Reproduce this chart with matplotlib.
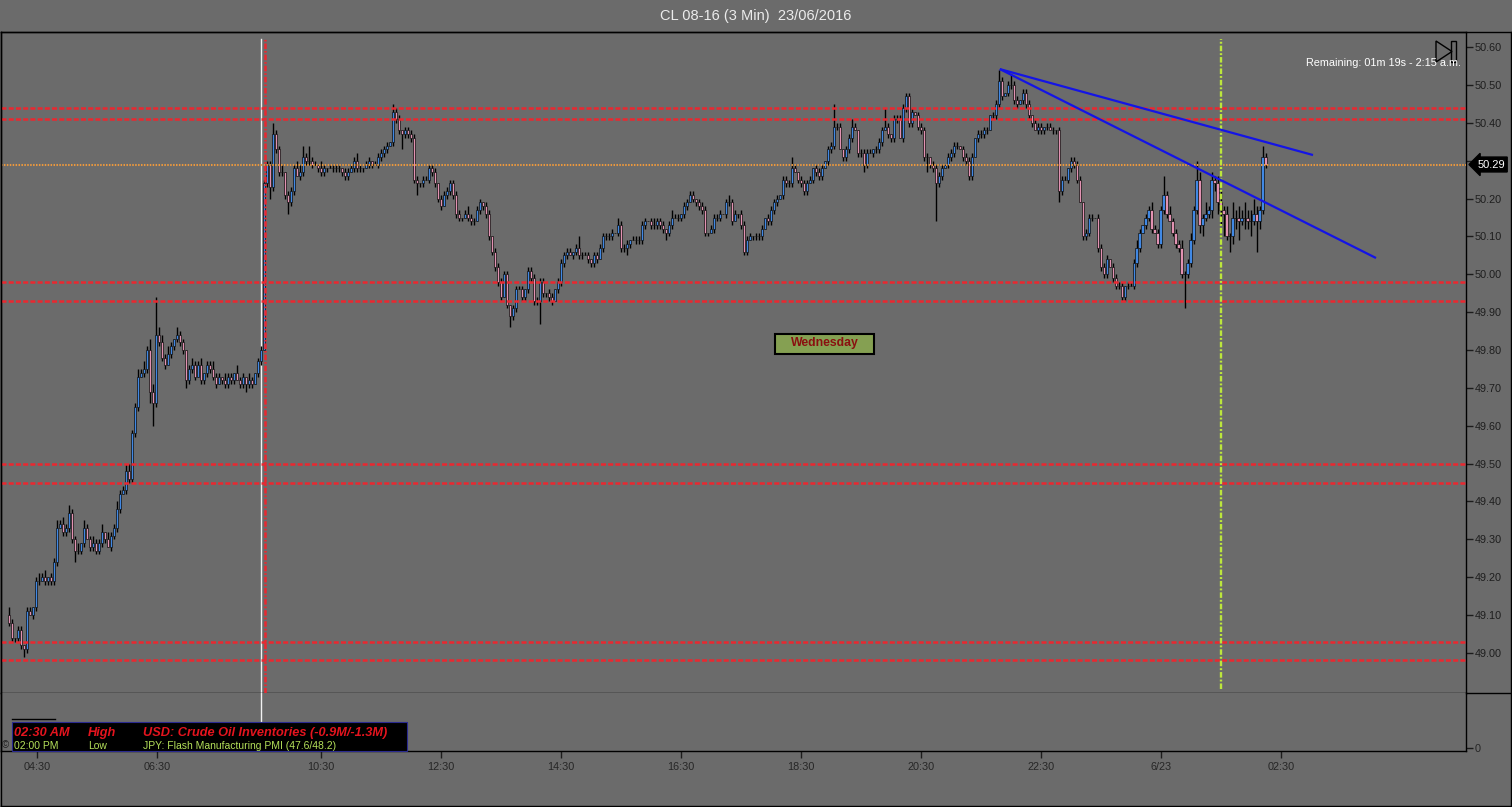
import numpy as np
import matplotlib
matplotlib.use("Agg")
import matplotlib.pyplot as plt
from matplotlib.patches import Rectangle, Polygon
from matplotlib.lines import Line2D

plt.rcParams['font.family'] = ['Liberation Sans', 'DejaVu Sans']
plt.rcParams['lines.scale_dashes'] = False

# ---- data ----
title = "CL 08-16 (3 Min)  23/06/2016"
first_open = 49.10
closes = [
    49.08, 49.04, 49.04, 49.06, 49.02, 49.01, 49.11, 49.10, 49.12, 49.19,
    49.19, 49.20, 49.19, 49.20, 49.19, 49.24, 49.33, 49.34, 49.32, 49.33,
    49.37, 49.30, 49.27, 49.27, 49.29, 49.33, 49.30, 49.28, 49.29, 49.27,
    49.29, 49.32, 49.30, 49.28, 49.31, 49.33, 49.38, 49.42, 49.43, 49.48,
    49.46, 49.58, 49.65, 49.73, 49.74, 49.75, 49.80, 49.69, 49.66, 49.84,
    49.82, 49.78, 49.76, 49.79, 49.81, 49.83, 49.84, 49.82, 49.80, 49.72,
    49.75, 49.76, 49.73, 49.76, 49.72, 49.74, 49.76, 49.75, 49.73, 49.71,
    49.73, 49.72, 49.71, 49.73, 49.72, 49.74, 49.72, 49.71, 49.73, 49.71,
    49.72, 49.71, 49.74, 49.77, 49.80, 50.24, 50.29, 50.23, 50.37, 50.33,
    50.27, 50.27, 50.21, 50.19, 50.22, 50.28, 50.26, 50.27, 50.31, 50.30,
    50.30, 50.29, 50.29, 50.28, 50.27, 50.28, 50.28, 50.28, 50.28, 50.28,
    50.28, 50.27, 50.26, 50.27, 50.28, 50.30, 50.28, 50.28, 50.28, 50.29,
    50.30, 50.29, 50.29, 50.31, 50.32, 50.33, 50.34, 50.35, 50.43, 50.41,
    50.38, 50.37, 50.38, 50.37, 50.36, 50.25, 50.24, 50.24, 50.25, 50.25,
    50.28, 50.27, 50.24, 50.20, 50.18, 50.21, 50.22, 50.24, 50.21, 50.16,
    50.15, 50.15, 50.16, 50.15, 50.14, 50.14, 50.17, 50.19, 50.18, 50.16,
    50.10, 50.06, 50.02, 49.98, 49.94, 50.00, 49.92, 49.89, 49.91, 49.96,
    49.96, 49.94, 49.96, 50.01, 49.99, 49.93, 49.93, 49.98, 49.95, 49.95,
    49.94, 49.93, 49.96, 49.98, 50.03, 50.05, 50.06, 50.05, 50.06, 50.07,
    50.05, 50.05, 50.05, 50.04, 50.03, 50.05, 50.04, 50.07, 50.10, 50.10,
    50.10, 50.11, 50.11, 50.13, 50.07, 50.07, 50.08, 50.09, 50.09, 50.09,
    50.09, 50.13, 50.14, 50.14, 50.13, 50.13, 50.14, 50.13, 50.12, 50.11,
    50.13, 50.15, 50.15, 50.15, 50.16, 50.18, 50.19, 50.21, 50.20, 50.19,
    50.18, 50.17, 50.11, 50.11, 50.12, 50.15, 50.15, 50.16, 50.16, 50.19,
    50.19, 50.14, 50.16, 50.16, 50.13, 50.06, 50.09, 50.10, 50.10, 50.10,
    50.10, 50.12, 50.15, 50.14, 50.17, 50.19, 50.20, 50.21, 50.25, 50.24,
    50.24, 50.28, 50.27, 50.25, 50.24, 50.22, 50.24, 50.25, 50.28, 50.27,
    50.26, 50.28, 50.30, 50.33, 50.34, 50.39, 50.39, 50.33, 50.31, 50.33,
    50.36, 50.39, 50.38, 50.32, 50.32, 50.29, 50.32, 50.32, 50.33, 50.33,
    50.35, 50.38, 50.39, 50.37, 50.36, 50.41, 50.41, 50.36, 50.44, 50.47,
    50.40, 50.43, 50.42, 50.39, 50.38, 50.31, 50.31, 50.29, 50.28, 50.24,
    50.26, 50.28, 50.29, 50.31, 50.32, 50.34, 50.34, 50.33, 50.31, 50.30,
    50.26, 50.31, 50.36, 50.37, 50.37, 50.38, 50.38, 50.42, 50.42, 50.45,
    50.51, 50.47, 50.48, 50.50, 50.50, 50.46, 50.45, 50.46, 50.48, 50.45,
    50.42, 50.40, 50.38, 50.39, 50.38, 50.39, 50.39, 50.38, 50.38, 50.38,
    50.22, 50.25, 50.25, 50.28, 50.30, 50.29, 50.25, 50.19, 50.10, 50.11,
    50.15, 50.15, 50.15, 50.07, 50.02, 50.00, 50.04, 50.02, 49.99, 49.97,
    49.97, 49.94, 49.97, 49.97, 49.97, 50.03, 50.07, 50.11, 50.13, 50.15,
    50.17, 50.12, 50.11, 50.08, 50.17, 50.21, 50.16, 50.14, 50.11, 50.08,
    50.07, 50.00, 50.00, 50.03, 50.09, 50.17, 50.25, 50.13, 50.15, 50.16,
    50.17, 50.25, 50.24, 50.19, 50.17, 50.16, 50.10, 50.10, 50.15, 50.15,
    50.14, 50.15, 50.15, 50.14, 50.14, 50.16, 50.14, 50.17, 50.31, 50.29,
]
# wick lengths beyond the body, in cents
upper_wick = [
    2, 1, 0, 1, 1, 0, 1, 1, 0, 1, 2, 1, 2, 0, 1, 1, 2, 1, 2, 1,
    2, 1, 1, 2, 0, 2, 1, 1, 2, 1, 1, 2, 0, 2, 1, 1, 2, 1, 1, 2,
    2, 1, 1, 2, 1, 2, 1, 3, 2, 10, 2, 2, 1, 2, 1, 0, 2, 1, 1, 0,
    1, 2, 1, 1, 2, 0, 1, 1, 2, 1, 1, 0, 2, 1, 1, 0, 2, 1, 1, 0,
    2, 1, 0, 1, 1, 1, 1, 1, 3, 1, 1, 2, 0, 1, 1, 1, 2, 2, 3, 1,
    4, 1, 1, 0, 2, 1, 0, 1, 1, 1, 1, 0, 1, 1, 1, 1, 2, 1, 0, 1,
    1, 0, 1, 1, 1, 1, 1, 0, 2, 1, 1, 0, 1, 1, 1, 1, 1, 0, 1, 1,
    1, 1, 1, 0, 1, 1, 1, 1, 1, 1, 1, 0, 1, 2, 1, 1, 1, 1, 0, 1,
    1, 0, 1, 1, 1, 1, 1, 0, 1, 1, 1, 1, 0, 1, 1, 1, 1, 1, 1, 0,
    1, 1, 0, 1, 1, 1, 1, 1, 0, 1, 3, 1, 1, 1, 0, 1, 1, 1, 1, 1,
    1, 1, 0, 2, 1, 1, 1, 0, 1, 1, 1, 1, 1, 0, 1, 2, 1, 1, 1, 0,
    1, 2, 1, 1, 0, 1, 1, 1, 1, 0, 1, 1, 1, 0, 1, 1, 1, 1, 0, 1,
    2, 1, 1, 0, 1, 1, 1, 1, 0, 1, 1, 1, 0, 1, 1, 1, 1, 0, 1, 1,
    1, 3, 1, 0, 1, 1, 1, 1, 0, 1, 1, 1, 0, 1, 1, 6, 1, 1, 0, 1,
    1, 2, 1, 0, 1, 1, 1, 1, 0, 1, 1, 1, 5, 1, 0, 1, 1, 1, 1, 1,
    1, 1, 0, 1, 1, 1, 1, 0, 1, 1, 1, 1, 0, 1, 1, 1, 1, 0, 1, 1,
    1, 1, 0, 1, 1, 1, 1, 0, 1, 1, 3, 1, 0, 1, 3, 1, 1, 0, 1, 1,
    1, 0, 1, 1, 1, 0, 1, 1, 1, 0, 1, 1, 1, 0, 1, 1, 1, 1, 0, 1,
    1, 1, 0, 1, 1, 1, 1, 0, 1, 1, 1, 1, 0, 1, 1, 1, 2, 1, 0, 1,
    1, 2, 1, 1, 1, 5, 1, 2, 1, 1, 1, 2, 1, 1, 2, 1, 5, 2, 1, 3,
    1, 2, 1, 2, 3, 1, 2, 1, 4, 2, 3, 2, 4, 2, 3, 4, 2, 1, 3, 1,
]
lower_wick = [
    1, 1, 1, 1, 1, 2, 1, 0, 1, 1, 1, 0, 1, 1, 1, 1, 1, 0, 1, 1,
    1, 1, 3, 1, 1, 1, 0, 1, 1, 1, 1, 1, 1, 0, 1, 1, 1, 1, 0, 1,
    1, 1, 1, 1, 0, 1, 1, 3, 6, 1, 1, 1, 1, 0, 1, 1, 1, 1, 1, 2,
    1, 1, 1, 0, 1, 1, 1, 1, 1, 1, 0, 1, 1, 1, 1, 1, 0, 1, 1, 2,
    1, 1, 0, 1, 1, 0, 1, 3, 1, 1, 1, 1, 1, 3, 1, 1, 0, 1, 1, 1,
    1, 1, 0, 1, 1, 1, 1, 0, 1, 1, 1, 1, 1, 1, 0, 1, 1, 1, 1, 0,
    1, 1, 0, 1, 1, 1, 1, 0, 1, 1, 1, 4, 1, 1, 1, 1, 3, 1, 1, 0,
    1, 1, 1, 1, 1, 0, 1, 1, 1, 1, 1, 1, 0, 1, 1, 1, 0, 1, 1, 1,
    1, 1, 1, 1, 1, 0, 1, 3, 1, 1, 0, 1, 1, 1, 1, 1, 1, 6, 1, 1,
    1, 1, 0, 1, 1, 1, 1, 0, 1, 1, 1, 1, 0, 1, 1, 1, 1, 0, 1, 1,
    1, 1, 0, 1, 1, 1, 2, 1, 0, 1, 1, 1, 1, 0, 1, 1, 1, 1, 1, 2,
    1, 1, 0, 1, 1, 1, 1, 0, 1, 1, 1, 1, 1, 1, 0, 1, 1, 1, 0, 1,
    1, 1, 0, 1, 1, 1, 1, 0, 1, 1, 1, 1, 0, 1, 1, 1, 1, 0, 1, 1,
    1, 1, 0, 1, 1, 1, 1, 0, 1, 1, 1, 1, 0, 1, 1, 1, 1, 0, 1, 1,
    1, 1, 0, 1, 1, 2, 1, 0, 1, 1, 1, 1, 0, 1, 1, 1, 1, 0, 1, 1,
    1, 1, 0, 1, 1, 1, 4, 1, 1, 10, 1, 1, 0, 1, 1, 1, 1, 0, 1, 1,
    1, 1, 0, 1, 1, 1, 1, 0, 1, 1, 1, 1, 0, 1, 1, 1, 1, 0, 1, 1,
    1, 1, 0, 1, 1, 1, 1, 0, 1, 1, 3, 1, 0, 1, 1, 1, 1, 0, 1, 1,
    1, 1, 0, 1, 1, 1, 1, 0, 1, 1, 1, 1, 1, 1, 0, 1, 1, 1, 0, 1,
    1, 1, 0, 1, 1, 1, 1, 0, 1, 1, 1, 1, 9, 1, 1, 1, 1, 2, 3, 1,
    1, 2, 2, 3, 4, 6, 1, 4, 2, 3, 5, 1, 3, 2, 4, 1, 8, 2, 1, 1,
]

levels = [50.44, 50.41, 49.98, 49.93, 49.50, 49.45, 49.03, 48.98]
last_price = 50.29
trend_x = [[330.3, 434.7], [330.3, 455.7]]
trend_y = [[50.542, 50.315], [50.542, 50.043]]
session_bar = 85.2
cursor_bar = 84.0
marker_bar = 404.0
tick_bars = [9.3, 49.3, 104, 144, 184, 224, 264, 304, 344, 384, 424]
tick_labels = ['04:30', '06:30', '10:30', '12:30', '14:30', '16:30',
               '18:30', '20:30', '22:30', '6/23', '02:30']
price_ticks = [49.0, 49.1, 49.2, 49.3, 49.4, 49.5, 49.6, 49.7, 49.8,
               49.9, 50.0, 50.1, 50.2, 50.3, 50.4, 50.5, 50.6]
news_time = ['02:30 AM', '02:00 PM']
news_impact = ['High', 'Low']
news_text = ['USD: Crude Oil Inventories (-0.9M/-1.3M)',
             'JPY: Flash Manufacturing PMI (47.6/48.2)']

BG = '#6b6b6b'
UP = '#4088e4'
DOWN = '#e292b2'
W, H = 1512, 807


def fx(px):
    return px / W


def fy(py):
    return 1 - py / H


c = np.array(closes)
o = np.concatenate([[first_open], c[:-1]])
h = np.maximum(o, c) + np.array(upper_wick) / 100
l = np.minimum(o, c) - np.array(lower_wick) / 100
x = np.arange(len(c))

fig = plt.figure(figsize=(W / 100, H / 100), dpi=100, facecolor=BG)
ax = fig.add_axes([fx(1), fy(693), fx(1466) - fx(1), fy(32) - fy(693)], facecolor=BG)
ax2 = fig.add_axes([fx(1), fy(751), fx(1466) - fx(1), fy(693) - fy(751)],
                   facecolor=BG, sharex=ax)

# candles
ax.vlines(x, l, h, color='black', lw=1.0, zorder=3)
ax.bar(x, np.abs(c - o), bottom=np.minimum(o, c), width=0.95,
       color=np.where(c >= o, UP, DOWN), edgecolor='#111111', linewidth=0.5, zorder=3)

# levels and drawings
for lv in levels:
    ax.axhline(lv, color='#ea2830', lw=1.8, ls=(0, (3.6, 1.6)), zorder=4)
ax.axhline(last_price, color='#ea983e', lw=1.5, ls=(0, (1.1, 1.0)), zorder=4)
ax.axvline(cursor_bar, color='#f2f2f2', lw=1, ymax=0.99, zorder=2)
ax2.axvline(cursor_bar, color='#f2f2f2', lw=1, zorder=2)
ax.axvline(session_bar, color='#ea2830', lw=1.8, ls=(0, (4, 1.4, 1.2, 1.4)),
           ymax=0.99, zorder=4)
ax.axvline(marker_bar, color='#bce63c', lw=1.7, ls=(0, (4, 1.4, 1.4, 1.4)),
           ymin=0.006, ymax=0.99, zorder=4)
for tx, ty in zip(trend_x, trend_y):
    ax.plot(tx, ty, color='#1414e6', lw=1.6, zorder=5, solid_capstyle='butt')

ax.set_xlim(-2.67, 485.7)
ax.set_ylim(48.894, 50.640)

# right price axis; the tick under the last-price tag gets no label
ax.yaxis.tick_right()
ax.set_yticks(price_ticks)
ax.set_yticklabels(['' if abs(p - last_price) < 0.05 else f'{p:.2f}' for p in price_ticks])
ax.tick_params(axis='y', direction='out', length=5, width=1, color='#1c1c1c',
               labelcolor='#1e1e1e', labelsize=7.8, pad=1)
ax.tick_params(axis='x', bottom=False, labelbottom=False)
for s in ax.spines.values():
    s.set_color('black')
    s.set_linewidth(1)

ax.annotate(f'{last_price:.2f}', xy=(1.0, last_price), xycoords=('axes fraction', 'data'),
            xytext=(8, 0), textcoords='offset points', ha='left', va='center',
            color='white', fontsize=8,
            bbox=dict(boxstyle='larrow,pad=0.22', fc='black', ec='black'),
            annotation_clip=False, zorder=6)

# lower panel with time axis
ax2.set_ylim(-0.06, 1)
ax2.yaxis.tick_right()
ax2.set_yticks([0])
ax2.set_yticklabels(['0'])
ax2.set_xticks(tick_bars)
ax2.set_xticklabels(tick_labels)
ax2.tick_params(axis='both', direction='out', length=5, width=1, color='#1c1c1c',
                labelcolor='#262626', labelsize=7.8)
ax2.tick_params(axis='x', pad=3)
ax2.tick_params(axis='y', pad=1)
ax2.spines['top'].set_visible(False)
for s in ax2.spines.values():
    s.set_color('black')
    s.set_linewidth(1)

# frame lines outside the axes
for (x0, y0, x1, y1) in [(1, 32, 1511, 32), (1466, 693, 1511, 693),
                         (1, 806, 1511, 806), (1511, 32, 1511, 806), (1, 32, 1, 806)]:
    fig.add_artist(Line2D([fx(x0), fx(x1)], [fy(y0), fy(y1)], color='black', lw=1))

fig.text(fx(756), fy(16), title, ha='center', va='center', color='#ececec', fontsize=10.5)
fig.text(fx(1461), fy(63), 'Remaining: 01m 19s - 2:15 a.m.', ha='right', va='center',
         color='white', fontsize=7.8)
fig.add_artist(Polygon([[fx(1436), fy(41)], [fx(1436), fy(62)], [fx(1452), fy(51.5)]],
                       closed=True, fill=False, ec='black', lw=1))
fig.add_artist(Rectangle((fx(1451), fy(62)), fx(5), fy(41) - fy(62), fill=False,
                         ec='black', lw=1))

# day label
fig.add_artist(Rectangle((fx(775), fy(354)), fx(99), fy(334) - fy(354),
                         fc='#85a052', ec='black', lw=1.5, zorder=6))
fig.text(fx(824.5), fy(343), 'Wednesday', ha='center', va='center', color='#8a1010',
         fontsize=8.8, fontweight='bold', zorder=7)

# news box
fig.add_artist(Line2D([fx(12), fx(55)], [fy(719), fy(719)], color='black', lw=1))
fig.text(fx(2), fy(745), '©', color='#1e1e1e', fontsize=7, va='center')
fig.add_artist(Rectangle((fx(12), fy(751)), fx(395), fy(722) - fy(751),
                         fc='black', ec='#2a2a90', lw=0.8, zorder=6))
for col, px in zip([news_time, news_impact, news_text], [14, 88, 143]):
    fig.text(fx(px), fy(736), col[0], color='#e4141e', fontsize=9.2, fontweight='bold',
             fontstyle='italic', va='baseline', zorder=7)
    fig.text(fx(px), fy(749), col[1], color='#b4e05a', fontsize=7.5,
             va='baseline', zorder=7)

fig.savefig('out.png', dpi=100, facecolor=BG)
